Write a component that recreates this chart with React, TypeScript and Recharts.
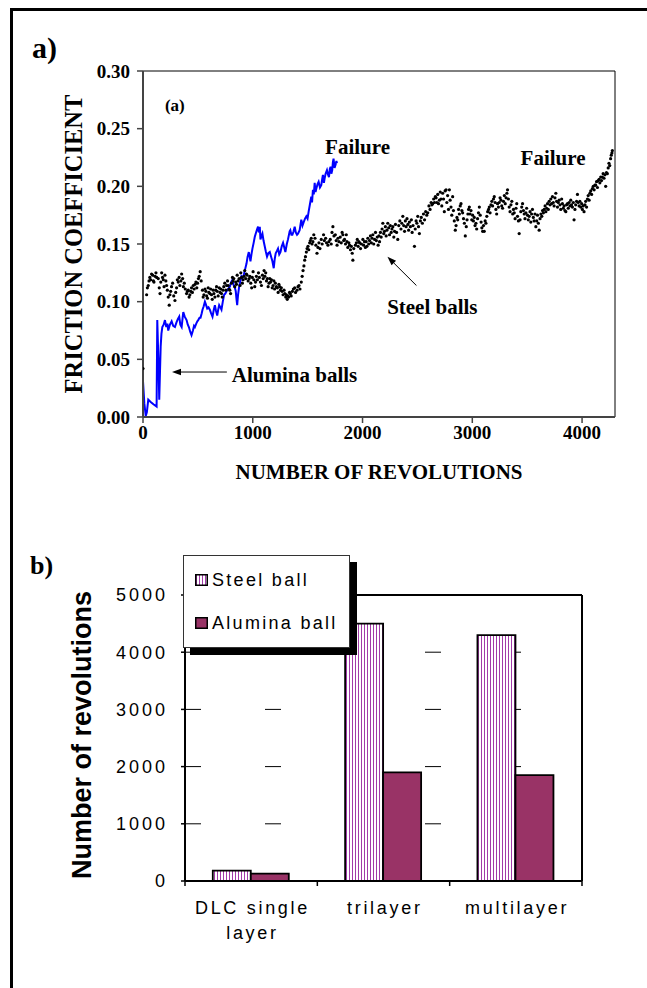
import React from 'react';
import {
  ComposedChart, Line, Scatter, XAxis, YAxis, ReferenceArea, ReferenceLine, ReferenceDot,
  BarChart, Bar, CartesianGrid, Legend,
} from 'recharts';

// ---------- (a) friction coefficient vs number of revolutions ----------
const revTicks = [0, 1000, 2000, 3000, 4000];
const muTicks = [0, 0.05, 0.1, 0.15, 0.2, 0.25, 0.3];

// Alumina balls (blue line): [revolutions, friction coefficient]
const aluminaPoints: [number, number][] = [
  [0, 0.031], [12, 0.012], [25, 0.001], [35, 0.004], [48, 0.015], [70, 0.013], [95, 0.011], [124, 0.009],
  [130, 0.084], [140, 0.05], [148, 0.015], [155, 0.04], [161, 0.061], [168, 0.072], [176, 0.078], [188, 0.08],
  [200, 0.084], [212, 0.078], [222, 0.081], [230, 0.075], [245, 0.08], [261, 0.083], [275, 0.079], [291, 0.078],
  [305, 0.082], [318, 0.085], [330, 0.087], [340, 0.08], [352, 0.078], [360, 0.085], [367, 0.091], [380, 0.087],
  [397, 0.084], [408, 0.08], [418, 0.078], [430, 0.074], [442, 0.071], [455, 0.075], [465, 0.079], [473, 0.078],
  [485, 0.081], [495, 0.083], [503, 0.084], [515, 0.086], [524, 0.086], [535, 0.09], [542, 0.093], [553, 0.096],
  [564, 0.1], [575, 0.097], [585, 0.094], [597, 0.095], [609, 0.093], [620, 0.09], [633, 0.087], [645, 0.093],
  [655, 0.097], [665, 0.092], [676, 0.088], [685, 0.093], [694, 0.097], [705, 0.095], [715, 0.093], [727, 0.1],
  [739, 0.106], [750, 0.107], [761, 0.109], [775, 0.111], [791, 0.113], [803, 0.117], [815, 0.119], [827, 0.114],
  [837, 0.112], [845, 0.109], [852, 0.102], [858, 0.097], [866, 0.106], [876, 0.113], [887, 0.118], [897, 0.122],
  [908, 0.121], [918, 0.123], [930, 0.128], [943, 0.133], [953, 0.139], [964, 0.143], [972, 0.139], [979, 0.135],
  [988, 0.141], [997, 0.146], [1008, 0.151], [1018, 0.156], [1030, 0.16], [1040, 0.163], [1048, 0.165], [1055, 0.16],
  [1064, 0.165], [1070, 0.154], [1080, 0.157], [1088, 0.159], [1098, 0.153], [1109, 0.148], [1120, 0.143], [1130, 0.139],
  [1142, 0.142], [1155, 0.143], [1167, 0.139], [1179, 0.135], [1191, 0.129], [1200, 0.137], [1209, 0.142], [1220, 0.144],
  [1230, 0.146], [1241, 0.141], [1252, 0.143], [1264, 0.148], [1276, 0.151], [1287, 0.147], [1297, 0.143], [1310, 0.15],
  [1321, 0.154], [1336, 0.161], [1342, 0.162], [1352, 0.158], [1361, 0.158], [1372, 0.161], [1382, 0.165], [1392, 0.16],
  [1403, 0.158], [1412, 0.159], [1427, 0.162], [1442, 0.171], [1453, 0.166], [1464, 0.169], [1476, 0.172], [1488, 0.174],
  [1499, 0.172], [1509, 0.178], [1520, 0.184], [1533, 0.191], [1540, 0.186], [1548, 0.197], [1556, 0.193], [1564, 0.203],
  [1572, 0.195], [1579, 0.198], [1590, 0.202], [1600, 0.204], [1612, 0.199], [1624, 0.201], [1632, 0.206], [1639, 0.21],
  [1648, 0.203], [1655, 0.207], [1664, 0.211], [1676, 0.214], [1686, 0.21], [1694, 0.208], [1702, 0.215], [1709, 0.217],
  [1716, 0.211], [1724, 0.214], [1730, 0.221], [1736, 0.224], [1745, 0.216], [1755, 0.219], [1762, 0.222], [1767, 0.22],
];

// Steel balls (black dots): [revolutions, friction coefficient]
const steelPoints: [number, number][] = [
  [0, 0.042], [33, 0.106], [40, 0.112], [48, 0.114], [55, 0.118], [62, 0.121], [70, 0.119], [78, 0.124], [88, 0.123],
  [95, 0.118], [100, 0.117], [110, 0.122], [118, 0.125], [125, 0.121], [139, 0.12], [148, 0.112], [155, 0.107],
  [162, 0.117], [170, 0.125], [178, 0.121], [185, 0.119], [192, 0.113], [200, 0.123], [208, 0.118], [215, 0.114],
  [222, 0.11], [230, 0.104], [239, 0.097], [245, 0.106], [252, 0.109], [260, 0.113], [270, 0.116], [280, 0.105],
  [291, 0.101], [298, 0.108], [306, 0.112], [313, 0.119], [321, 0.117], [329, 0.121], [336, 0.114], [345, 0.118],
  [352, 0.124], [361, 0.12], [368, 0.113], [376, 0.116], [385, 0.111], [397, 0.107], [405, 0.109], [412, 0.11],
  [420, 0.104], [427, 0.106], [435, 0.109], [442, 0.112], [450, 0.108], [458, 0.114], [466, 0.111], [474, 0.115],
  [482, 0.117], [490, 0.112], [497, 0.116], [505, 0.12], [512, 0.122], [521, 0.126], [530, 0.118], [542, 0.11],
  [548, 0.104], [555, 0.106], [565, 0.111], [573, 0.109], [580, 0.105], [587, 0.103], [594, 0.112], [600, 0.108],
  [609, 0.107], [616, 0.111], [624, 0.106], [631, 0.102], [639, 0.11], [646, 0.107], [655, 0.104], [662, 0.11],
  [670, 0.113], [676, 0.109], [685, 0.105], [694, 0.112], [702, 0.108], [708, 0.111], [715, 0.107], [722, 0.104],
  [729, 0.11], [736, 0.113], [745, 0.116], [755, 0.11], [762, 0.114], [770, 0.118], [776, 0.114], [784, 0.111],
  [791, 0.11], [798, 0.107], [806, 0.116], [815, 0.121], [821, 0.118], [827, 0.12], [836, 0.113], [845, 0.117],
  [852, 0.115], [858, 0.123], [866, 0.118], [876, 0.12], [884, 0.114], [891, 0.125], [898, 0.121], [905, 0.116],
  [912, 0.119], [920, 0.122], [927, 0.127], [936, 0.12], [942, 0.124], [948, 0.123], [958, 0.118], [967, 0.12],
  [974, 0.122], [982, 0.116], [990, 0.112], [996, 0.121], [1003, 0.126], [1010, 0.119], [1018, 0.113], [1025, 0.117],
  [1033, 0.122], [1042, 0.119], [1052, 0.125], [1060, 0.121], [1070, 0.117], [1079, 0.114], [1088, 0.123], [1095, 0.12],
  [1103, 0.127], [1110, 0.122], [1118, 0.125], [1125, 0.118], [1133, 0.12], [1140, 0.113], [1148, 0.116], [1155, 0.12],
  [1162, 0.117], [1170, 0.119], [1177, 0.112], [1185, 0.114], [1192, 0.118], [1199, 0.111], [1206, 0.116], [1215, 0.113],
  [1224, 0.112], [1231, 0.108], [1238, 0.115], [1245, 0.113], [1252, 0.11], [1260, 0.112], [1267, 0.109], [1276, 0.106],
  [1285, 0.11], [1292, 0.107], [1300, 0.104], [1306, 0.106], [1314, 0.102], [1321, 0.105], [1327, 0.104], [1335, 0.108],
  [1342, 0.107], [1350, 0.105], [1361, 0.109], [1370, 0.111], [1382, 0.112], [1390, 0.108], [1403, 0.11], [1412, 0.113],
  [1421, 0.114], [1430, 0.111], [1442, 0.117], [1450, 0.122], [1458, 0.127], [1466, 0.131], [1473, 0.136], [1480, 0.139],
  [1488, 0.143], [1495, 0.146], [1503, 0.148], [1510, 0.145], [1518, 0.151], [1525, 0.153], [1533, 0.155], [1540, 0.15],
  [1548, 0.152], [1556, 0.158], [1567, 0.155], [1575, 0.149], [1585, 0.142], [1594, 0.147], [1603, 0.151], [1612, 0.146],
  [1624, 0.154], [1632, 0.15], [1645, 0.158], [1652, 0.153], [1664, 0.155], [1672, 0.151], [1685, 0.149], [1694, 0.152],
  [1706, 0.154], [1715, 0.15], [1722, 0.16], [1730, 0.165], [1740, 0.157], [1752, 0.158], [1760, 0.153], [1768, 0.149],
  [1776, 0.155], [1785, 0.152], [1797, 0.156], [1806, 0.151], [1814, 0.16], [1821, 0.158], [1828, 0.153], [1836, 0.154],
  [1845, 0.15], [1852, 0.158], [1858, 0.152], [1866, 0.147], [1875, 0.151], [1882, 0.149], [1890, 0.145], [1898, 0.148],
  [1906, 0.142], [1912, 0.136], [1920, 0.146], [1935, 0.149], [1944, 0.151], [1952, 0.154], [1960, 0.148], [1966, 0.152],
  [1973, 0.151], [1982, 0.146], [1990, 0.15], [2003, 0.154], [2010, 0.149], [2018, 0.152], [2026, 0.147], [2033, 0.152],
  [2040, 0.148], [2048, 0.155], [2056, 0.15], [2064, 0.153], [2072, 0.157], [2080, 0.151], [2087, 0.155], [2094, 0.158],
  [2102, 0.15], [2110, 0.154], [2118, 0.16], [2126, 0.153], [2134, 0.156], [2142, 0.149], [2150, 0.157], [2155, 0.152],
  [2163, 0.16], [2170, 0.156], [2178, 0.163], [2185, 0.168], [2193, 0.159], [2200, 0.161], [2208, 0.165], [2215, 0.157],
  [2222, 0.162], [2230, 0.168], [2238, 0.164], [2246, 0.158], [2253, 0.166], [2261, 0.16], [2268, 0.163], [2276, 0.165],
  [2285, 0.156], [2292, 0.161], [2300, 0.167], [2310, 0.16], [2321, 0.154], [2330, 0.166], [2340, 0.17], [2350, 0.163],
  [2358, 0.168], [2367, 0.174], [2375, 0.166], [2383, 0.161], [2390, 0.17], [2397, 0.165], [2405, 0.172], [2413, 0.167],
  [2420, 0.162], [2427, 0.169], [2436, 0.165], [2445, 0.171], [2452, 0.16], [2460, 0.166], [2473, 0.148], [2480, 0.163],
  [2488, 0.17], [2495, 0.168], [2503, 0.174], [2510, 0.165], [2518, 0.159], [2527, 0.17], [2535, 0.173], [2545, 0.168],
  [2555, 0.176], [2565, 0.171], [2575, 0.178], [2585, 0.175], [2594, 0.177], [2605, 0.183], [2615, 0.18], [2625, 0.186],
  [2632, 0.184], [2639, 0.185], [2648, 0.189], [2655, 0.186], [2663, 0.191], [2670, 0.19], [2677, 0.186], [2685, 0.193],
  [2692, 0.185], [2700, 0.188], [2708, 0.195], [2715, 0.189], [2722, 0.183], [2730, 0.194], [2738, 0.189], [2745, 0.178],
  [2752, 0.196], [2761, 0.197], [2768, 0.186], [2775, 0.192], [2783, 0.18], [2791, 0.197], [2798, 0.188], [2806, 0.182],
  [2813, 0.175], [2821, 0.191], [2828, 0.179], [2836, 0.17], [2845, 0.162], [2852, 0.166], [2860, 0.173], [2867, 0.171],
  [2875, 0.18], [2882, 0.176], [2890, 0.183], [2897, 0.185], [2905, 0.179], [2912, 0.177], [2920, 0.172], [2928, 0.168],
  [2936, 0.157], [2945, 0.165], [2952, 0.171], [2960, 0.176], [2966, 0.18], [2973, 0.182], [2980, 0.176], [2988, 0.179],
  [2995, 0.171], [3003, 0.175], [3010, 0.17], [3018, 0.173], [3025, 0.166], [3033, 0.168], [3040, 0.163], [3048, 0.172],
  [3056, 0.177], [3064, 0.182], [3072, 0.175], [3080, 0.169], [3087, 0.164], [3094, 0.161], [3102, 0.166], [3109, 0.161],
  [3117, 0.17], [3124, 0.168], [3132, 0.174], [3140, 0.178], [3148, 0.18], [3155, 0.182], [3162, 0.177], [3170, 0.184],
  [3178, 0.187], [3185, 0.183], [3193, 0.189], [3200, 0.191], [3208, 0.186], [3215, 0.18], [3222, 0.176], [3230, 0.185],
  [3238, 0.182], [3245, 0.186], [3253, 0.19], [3261, 0.188], [3268, 0.183], [3276, 0.181], [3284, 0.187], [3292, 0.192],
  [3300, 0.185], [3308, 0.19], [3315, 0.194], [3321, 0.197], [3329, 0.189], [3336, 0.182], [3344, 0.178], [3352, 0.184],
  [3360, 0.187], [3368, 0.176], [3375, 0.18], [3382, 0.177], [3390, 0.172], [3398, 0.181], [3405, 0.185], [3412, 0.174],
  [3420, 0.17], [3427, 0.159], [3435, 0.171], [3442, 0.178], [3450, 0.182], [3458, 0.185], [3466, 0.179], [3473, 0.176],
  [3480, 0.172], [3488, 0.177], [3495, 0.181], [3503, 0.175], [3510, 0.171], [3518, 0.174], [3526, 0.178], [3533, 0.169],
  [3540, 0.176], [3548, 0.18], [3556, 0.173], [3563, 0.17], [3571, 0.176], [3579, 0.165], [3587, 0.17], [3594, 0.175],
  [3602, 0.168], [3609, 0.162], [3617, 0.172], [3625, 0.176], [3633, 0.174], [3640, 0.179], [3648, 0.177], [3655, 0.18],
  [3663, 0.183], [3670, 0.178], [3677, 0.181], [3685, 0.185], [3692, 0.18], [3700, 0.187], [3708, 0.184], [3715, 0.189],
  [3722, 0.185], [3730, 0.191], [3738, 0.186], [3745, 0.183], [3753, 0.19], [3761, 0.194], [3768, 0.187], [3776, 0.182],
  [3783, 0.186], [3791, 0.188], [3799, 0.184], [3806, 0.18], [3814, 0.189], [3821, 0.185], [3829, 0.181], [3836, 0.183],
  [3844, 0.179], [3852, 0.178], [3859, 0.184], [3867, 0.185], [3874, 0.181], [3882, 0.186], [3889, 0.183], [3897, 0.188],
  [3904, 0.184], [3912, 0.182], [3920, 0.186], [3927, 0.171], [3935, 0.18], [3942, 0.184], [3950, 0.187], [3958, 0.193],
  [3965, 0.186], [3973, 0.183], [3980, 0.187], [3988, 0.182], [3996, 0.185], [4003, 0.18], [4010, 0.183], [4018, 0.178],
  [4026, 0.184], [4033, 0.187], [4041, 0.182], [4049, 0.189], [4056, 0.192], [4064, 0.188], [4071, 0.194], [4079, 0.196],
  [4087, 0.193], [4094, 0.198], [4102, 0.2], [4110, 0.197], [4117, 0.201], [4124, 0.201], [4132, 0.204], [4140, 0.199],
  [4147, 0.205], [4155, 0.206], [4162, 0.203], [4170, 0.208], [4177, 0.205], [4185, 0.208], [4192, 0.211], [4200, 0.207],
  [4208, 0.21], [4215, 0.2], [4222, 0.212], [4230, 0.211], [4238, 0.216], [4245, 0.22], [4252, 0.218], [4260, 0.224],
  [4266, 0.227], [4272, 0.229], [4276, 0.231],
];

// ---------- (b) number of revolutions to failure ----------
const categories = ['DLC single layer', 'trilayer', 'multilayer'];
const steelBall = [180, 4500, 4300];
const aluminaBall = [130, 1900, 1850];
const revolutionTicks = [0, 1000, 2000, 3000, 4000, 5000];

const SERIF = '"Liberation Serif", "Times New Roman", serif';
const SANS = '"Liberation Sans", Arial, sans-serif';
const STEEL_STRIPE = '#a23ba9';
const ALUMINA_FILL = '#993366';

const aluminaData = aluminaPoints.map(([x, y]) => ({ x, y }));
const steelData = steelPoints.map(([x, y]) => ({ x, y }));
const barData = categories.map((name, i) => ({ name, steel: steelBall[i], alumina: aluminaBall[i] }));

const Arrow = (p: any) => {
  const { x1, y1, x2, y2 } = p;
  const ang = Math.atan2(y1 - y2, x1 - x2);
  const L = 9;
  const w = 3.2;
  const bx = x1 - L * Math.cos(ang);
  const by = y1 - L * Math.sin(ang);
  const px = -Math.sin(ang) * w;
  const py = Math.cos(ang) * w;
  return (
    <g>
      <line x1={x2} y1={y2} x2={bx} y2={by} stroke="#000" strokeWidth={1} />
      <polygon points={`${x1},${y1} ${bx + px},${by + py} ${bx - px},${by - py}`} fill="#000" />
    </g>
  );
};

const annText = (value: string, size: number, anchor: string = 'middle') => (p: any) => (
  <text x={p.cx} y={p.cy} textAnchor={anchor} dominantBaseline="central"
    fontFamily={SERIF} fontWeight={700} fontSize={size} fill="#000">{value}</text>
);

const TopChart = () => (
  <ComposedChart width={647} height={500} margin={{ top: 71, right: 32, bottom: 13, left: 83 }}>
    <ReferenceArea x1={0} x2={4300} y1={0} y2={0.3} fill="none" stroke="#000" strokeWidth={1} ifOverflow="visible" />
    <XAxis dataKey="x" type="number" domain={[0, 4300]} ticks={revTicks} allowDataOverflow height={70}
      tickSize={6} tickMargin={3}
      axisLine={{ stroke: '#444', strokeWidth: 2 }} tickLine={{ stroke: '#444', strokeWidth: 1.5 }}
      tick={{ fontFamily: SERIF, fontSize: 19, fontWeight: 700, fill: '#000' }}
      label={{
        content: (props: any) => {
          const vb = props.viewBox || {};
          return (
            <text x={vb.x + vb.width / 2} y={479} textAnchor="middle" fontFamily={SERIF}
              fontWeight={700} fontSize={21} fill="#000">NUMBER OF REVOLUTIONS</text>
          );
        },
      }}
    />
    <YAxis type="number" domain={[0, 0.3]} ticks={muTicks} allowDataOverflow width={60}
      tickSize={6} tickMargin={7} tickFormatter={(v: number) => v.toFixed(2)}
      axisLine={{ stroke: '#444', strokeWidth: 2 }} tickLine={{ stroke: '#444', strokeWidth: 1.5 }}
      tick={{ fontFamily: SERIF, fontSize: 19, fontWeight: 700, fill: '#000' }}
      label={{
        content: (props: any) => {
          const vb = props.viewBox || {};
          const cy = vb.y + vb.height / 2;
          return (
            <text x={82} y={cy} transform={`rotate(-90 82 ${cy})`} textAnchor="middle" fontFamily={SERIF}
              fontWeight={700} fontSize={24.5} fill="#000">FRICTION COEFFICIENT</text>
          );
        },
      }}
    />
    <Line data={aluminaData} dataKey="y" type="linear" stroke="#0000ff" strokeWidth={2} dot={false}
      isAnimationActive={false} />
    <Scatter data={steelData} dataKey="y" fill="#000" isAnimationActive={false}
      shape={(p: any) => <circle cx={p.cx} cy={p.cy} r={1.6} fill="#000" />} />
    <ReferenceLine segment={[{ x: 264, y: 0.039 }, { x: 764, y: 0.039 }]} shape={Arrow} ifOverflow="visible" />
    <ReferenceLine segment={[{ x: 2227, y: 0.139 }, { x: 2491, y: 0.114 }]} shape={Arrow} ifOverflow="visible" />
    <ReferenceDot x={290} y={0.27} r={0} shape={annText('(a)', 17)} />
    <ReferenceDot x={1955} y={0.234} r={0} shape={annText('Failure', 21)} />
    <ReferenceDot x={3736} y={0.225} r={0} shape={annText('Failure', 21)} />
    <ReferenceDot x={2636} y={0.095} r={0} shape={annText('Steel balls', 21)} />
    <ReferenceDot x={809} y={0.036} r={0} shape={annText('Alumina balls', 21, 'start')} />
  </ComposedChart>
);

const splitLines = (s: string) => {
  const words = s.split(' ');
  const lines: string[] = [];
  let cur = '';
  words.forEach((w) => {
    const next = cur ? cur + ' ' + w : w;
    if (next.length > 11 && cur) { lines.push(cur); cur = w; } else { cur = next; }
  });
  if (cur) lines.push(cur);
  return lines;
};

const BAND = 397 / categories.length;

const CategoryTick = (props: any) => {
  const { x, y, payload, index } = props;
  const half = payload && payload.offset ? payload.offset : BAND / 2;
  const lines = splitLines(String(payload.value));
  return (
    <g>
      <line x1={x - half} y1={y} x2={x - half} y2={y + 5} stroke="#000" strokeWidth={1.5} />
      {index === categories.length - 1 && (
        <line x1={x + half} y1={y} x2={x + half} y2={y + 5} stroke="#000" strokeWidth={1.5} />
      )}
      {lines.map((l, i) => (
        <text key={i} x={x + 1.3} y={y + 33 + i * 25} textAnchor="middle" fontFamily={SANS} fontSize={18}
          letterSpacing={2.7} fill="#000">{l}</text>
      ))}
    </g>
  );
};

const Swatch = ({ hatch }: { hatch: boolean }) => (
  <svg width={13} height={12} style={{ display: 'block' }}>
    <defs>
      <pattern id="legendHatch" width="3" height="4" patternUnits="userSpaceOnUse">
        <rect width="3" height="4" fill="#fff" />
        <rect x="1" width="1" height="4" fill={STEEL_STRIPE} />
      </pattern>
    </defs>
    <rect x={0.75} y={0.75} width={11.5} height={10.5} fill={hatch ? 'url(#legendHatch)' : ALUMINA_FILL}
      stroke="#000" strokeWidth={1.5} />
  </svg>
);

const BarLegend = () => (
  <div style={{
    position: 'relative', width: 165, height: 91, background: '#fff', border: '1px solid #333',
    boxShadow: '7px 7px 0 #000', fontFamily: SANS, fontSize: 18, letterSpacing: 2.3, color: '#000',
  }}>
    {[
      { label: 'Steel ball', hatch: true, top: 17 },
      { label: 'Alumina ball', hatch: false, top: 60 },
    ].map((it) => (
      <div key={it.label} style={{ position: 'absolute', left: 11, top: it.top, display: 'flex', alignItems: 'center', height: 14 }}>
        <Swatch hatch={it.hatch} />
        <span style={{ marginLeft: 4, lineHeight: '14px', whiteSpace: 'nowrap' }}>{it.label}</span>
      </div>
    ))}
  </div>
);

const BottomChart = () => (
  <BarChart width={647} height={440} data={barData} margin={{ top: 55, right: 65, bottom: 29, left: 105 }}
    barCategoryGap="21%" barGap={0}>
    <defs>
      <pattern id="steelHatch" width="3" height="4" patternUnits="userSpaceOnUse">
        <rect width="3" height="4" fill="#fff" />
        <rect x="1" width="1" height="4" fill={STEEL_STRIPE} />
      </pattern>
    </defs>
    <CartesianGrid vertical={false} stroke="#000" strokeWidth={1} strokeDasharray="16 64" />
    <XAxis dataKey="name" height={70} interval={0} tickLine={false} tickSize={0} tickMargin={0}
      axisLine={{ stroke: '#000', strokeWidth: 2 }} tick={<CategoryTick />} />
    <YAxis domain={[0, 5000]} ticks={revolutionTicks} width={80} tickSize={4} tickMargin={13}
      axisLine={{ stroke: '#000', strokeWidth: 2 }} tickLine={{ stroke: '#000', strokeWidth: 1.5 }}
      tick={{ fontFamily: SANS, fontSize: 18, letterSpacing: 3, fill: '#000' }}
      label={{
        content: (props: any) => {
          const vb = props.viewBox || {};
          const cy = vb.y + vb.height / 2 - 3;
          return (
            <text x={91} y={cy} transform={`rotate(-90 91 ${cy})`} textAnchor="middle" fontFamily={SANS}
              fontWeight={700} fontSize={27} fill="#000">Number of revolutions</text>
          );
        },
      }}
    />
    <ReferenceLine y={5000} stroke="#000" strokeWidth={2} />
    <ReferenceLine x="multilayer" position="end" stroke="#000" strokeWidth={2} />
    <Bar dataKey="steel" name="Steel ball" fill="url(#steelHatch)" stroke="#000" strokeWidth={1.8}
      isAnimationActive={false} />
    <Bar dataKey="alumina" name="Alumina ball" fill={ALUMINA_FILL} stroke="#000" strokeWidth={1.8}
      isAnimationActive={false} />
    <Legend layout="horizontal" verticalAlign="middle" align="center" width={175}
      wrapperStyle={{ left: 183, top: 15, width: 175, height: 100 }} content={() => <BarLegend />} />
  </BarChart>
);

export default function App() {
  return (
    <div style={{ position: 'absolute', left: 0, top: 0, width: 647, height: 988, background: '#fff', overflow: 'hidden' }}>
      <div style={{
        position: 'absolute', left: 10, top: 8, width: 660, height: 1000,
        borderTop: '3px solid #000', borderLeft: '3px solid #000',
      }} />
      <div style={{ position: 'absolute', left: 0, top: 0 }}>
        <TopChart />
      </div>
      <div style={{ position: 'absolute', left: 0, top: 540 }}>
        <BottomChart />
      </div>
      <div style={{
        position: 'absolute', left: 32, top: 33, fontFamily: SERIF, fontWeight: 700, fontSize: 30,
        lineHeight: '30px', color: '#000',
      }}>a)</div>
      <div style={{
        position: 'absolute', left: 30, top: 553, fontFamily: SERIF, fontWeight: 700, fontSize: 26,
        lineHeight: '26px', color: '#000',
      }}>b)</div>
    </div>
  );
}
